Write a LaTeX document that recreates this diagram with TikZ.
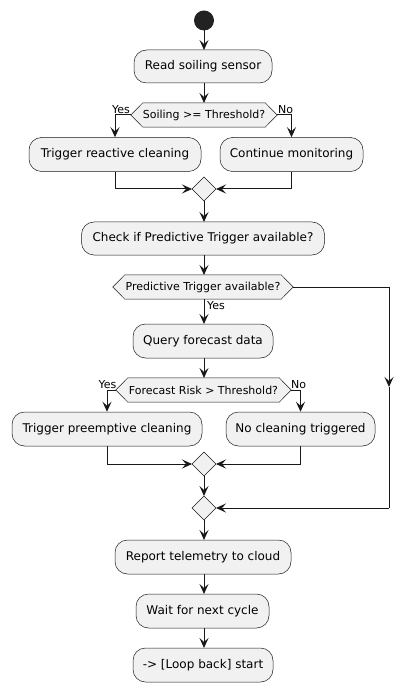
\documentclass[tikz,border=0pt]{standalone}
\usepackage{fontspec}
\setmainfont{DejaVu Sans}
\usetikzlibrary{arrows.meta,calc}
\definecolor{boxfill}{HTML}{F1F1F1}
\definecolor{ink}{HTML}{181818}
\definecolor{dot}{HTML}{222222}
\begin{document}
\begin{tikzpicture}[x=1pt,y=-1pt,
  act/.style={draw=ink,fill=boxfill,line width=0.5pt,rounded corners=12.5pt,inner sep=0pt,font=\fontsize{12}{14}\selectfont,text=black},
  hexbox/.style={inner sep=0pt,minimum height=24pt,font=\fontsize{11}{13}\selectfont,text=black},
  hexline/.style={draw=ink,fill=boxfill,line width=0.5pt},
  merge/.style={draw=ink,fill=boxfill,line width=0.5pt},
  flow/.style={draw=ink,line width=1pt,-{Stealth[length=10pt,width=9pt,inset=4pt]}},
  plain/.style={draw=ink,line width=1pt},
  lbl/.style={inner sep=0pt,font=\fontsize{11}{13}\selectfont,text=black}]
\useasboundingbox (0,0) rectangle (414,692);

% start
\fill[dot] (204,20.5) circle (10pt);
\coordinate (st) at (204,30.5);

% activities
\node[act,minimum width=138pt,minimum height=33pt] (read) at (203,66.5) {Read soiling sensor};
\node[act,minimum width=172pt,minimum height=34pt] (react) at (115,154.5) {Trigger reactive cleaning};
\node[act,minimum width=143pt,minimum height=34pt] (cont) at (291.5,154.5) {Continue monitoring};
\node[act,minimum width=243pt,minimum height=33pt] (check) at (203,238.5) {Check if Predictive Trigger available?};
\node[act,minimum width=140pt,minimum height=34pt] (query) at (203,341) {Query forecast data};
\node[act,minimum width=190pt,minimum height=34pt] (pre) at (107,429) {Trigger preemptive cleaning};
\node[act,minimum width=149pt,minimum height=34pt] (nocl) at (300.5,429) {No cleaning triggered};
\node[act,minimum width=176pt,minimum height=34pt] (rep) at (203,557) {Report telemetry to cloud};
\node[act,minimum width=133pt,minimum height=34pt] (wait) at (202.5,611) {Wait for next cycle};
\node[act,minimum width=140pt,minimum height=34pt] (loop) at (203,665) {-> [Loop back] start};

% hexagon decisions
\newcommand{\hexdraw}[1]{%
  \path[hexline] (#1.north west) -- (#1.north east) -- ($(#1.east)+(12,0)$) -- (#1.south east) -- (#1.south west) -- ($(#1.west)+(-12,0)$) -- cycle;
  \coordinate (#1-l) at ($(#1.west)+(-12,0)$);
  \coordinate (#1-r) at ($(#1.east)+(12,0)$);}
\node[hexbox,minimum width=122pt] (h1) at (204,115) {};
\hexdraw{h1}
\node[hexbox,minimum width=122pt] at (204,115) {Soiling >= Threshold?};
\node[hexbox,minimum width=156pt] (h2) at (203,287) {};
\hexdraw{h2}
\node[hexbox,minimum width=156pt] at (203,287) {Predictive Trigger available?};
\node[hexbox,minimum width=151pt] (h3) at (203.5,390) {};
\hexdraw{h3}
\node[hexbox,minimum width=151pt] at (203.5,390) {Forecast Risk > Threshold?};

% merges
\path[merge] (204,177) -- (216,189) -- (204,201) -- (192,189) -- cycle;
\coordinate (m1n) at (204,177); \coordinate (m1e) at (216,189); \coordinate (m1s) at (204,201); \coordinate (m1w) at (192,189);
\path[merge] (204,452) -- (216,464) -- (204,476) -- (192,464) -- cycle;
\coordinate (m2n) at (204,452); \coordinate (m2e) at (216,464); \coordinate (m2s) at (204,476); \coordinate (m2w) at (192,464);
\path[merge] (204,496) -- (216,508) -- (204,520) -- (192,508) -- cycle;
\coordinate (m3n) at (204,496); \coordinate (m3e) at (216,508); \coordinate (m3s) at (204,520); \coordinate (m3w) at (192,508);

% connectors
\draw[flow] (st) -- (204,50);
\draw[flow] (204,83) -- (204,103);
\draw[flow] (h1-l) -| (react.north);
\draw[flow] (h1-r) -| (cont.north);
\draw[flow] (react.south) |- (m1w);
\draw[flow] (cont.south) |- (m1e);
\draw[flow] (m1s) -- (204,222);
\draw[flow] (204,255) -- (204,275);
\draw[flow] (204,299) -- (204,324);
\coordinate (rc1) at (389,287);
\coordinate (rc2) at (389,387);
\coordinate (rc3) at (389,508);
\draw[flow] (h2-r) -- (rc1) -- (rc2);
\draw[plain] (rc2) -- (rc3);
\draw[flow] (rc3) -- (m3e);
\draw[flow] (204,358) -- (204,378);
\draw[flow] (h3-l) -| (pre.north);
\draw[flow] (h3-r) -| (nocl.north);
\draw[flow] (pre.south) |- (m2w);
\draw[flow] (nocl.south) |- (m2e);
\draw[flow] (m2s) -- (m3n);
\draw[flow] (m3s) -- (204,540);
\draw[flow] (204,574) -- (204,594);
\draw[flow] (204,628) -- (204,648);

% labels
\node[lbl,anchor=south east] at (130,114) {Yes};
\node[lbl,anchor=south west] at (278,114) {No};
\node[lbl,anchor=west] at (207,306) {Yes};
\node[lbl,anchor=south east] at (116.5,389) {Yes};
\node[lbl,anchor=south west] at (291,389) {No};
\end{tikzpicture}
\end{document}
